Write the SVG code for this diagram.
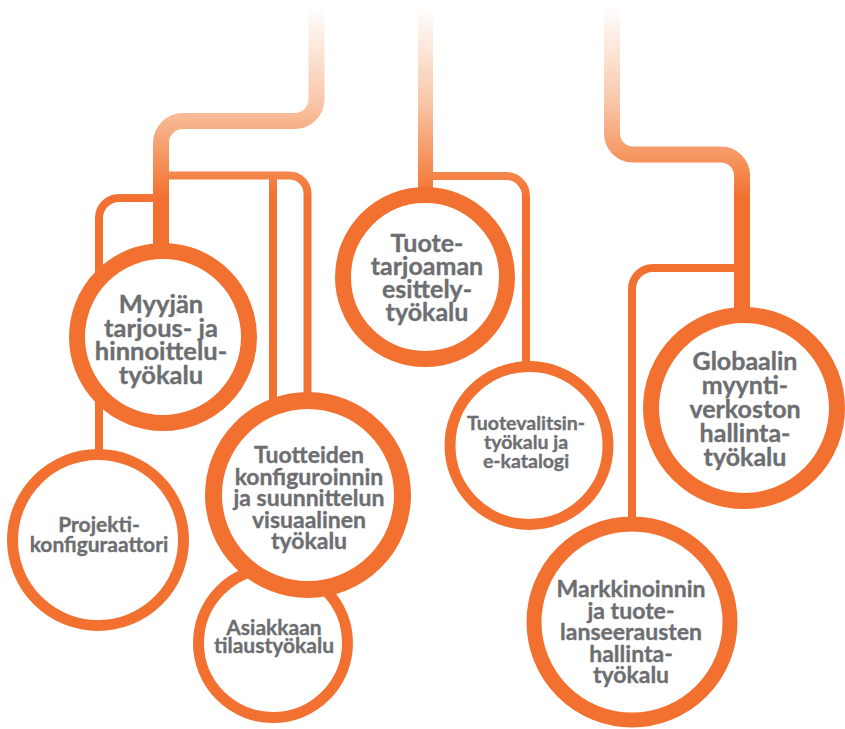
<svg xmlns="http://www.w3.org/2000/svg" width="845" height="729" viewBox="0 0 845 729">
<defs>
<linearGradient id="fade" gradientUnits="userSpaceOnUse" x1="0" y1="7" x2="0" y2="198">
<stop offset="0" stop-color="#ffffff"/>
<stop offset="0.5" stop-color="#f8c6a8"/>
<stop offset="0.82" stop-color="#f58f58"/>
<stop offset="1" stop-color="#f37130"/>
</linearGradient>
<style>
.thick{fill:none;stroke:url(#fade);stroke-width:16}
.thin{fill:none;stroke:url(#fade);stroke-width:8}
.ring{fill:#ffffff;stroke:#f37130}
.lbl{font-family:Lato,"Open Sans","Liberation Sans",sans-serif;font-weight:bold;fill:#6d6e71;stroke:#6d6e71;stroke-width:0.35;text-anchor:middle}
</style>
</defs>
<rect width="845" height="729" fill="#ffffff"/>
<g id="connectors">
<path class="thick" d="M316.5,7 V99 A22,22 0 0 1 294.5,121 H183 A22,22 0 0 0 161,143 V250"/>
<path class="thin" d="M161,198 H119 A20,20 0 0 0 99,218 V455"/>
<path class="thin" d="M161,175.5 H289.5 A18,18 0 0 1 307.5,193.5 V400"/>
<path class="thin" d="M273,175.5 V400"/>
<path class="thick" style="stroke-width:15" d="M425.5,7 V195"/>
<path class="thin" d="M425.5,176 H506 A20,20 0 0 1 526,196 V366"/>
<path class="thick" d="M612,7 V133 A21,21 0 0 0 633,154.5 H721 A21,21 0 0 1 742,175.5 V312"/>
<path class="thin" d="M742,268 H653 A21,21 0 0 0 632,289 V522"/>
</g>
<g id="myyjan">
<circle class="ring" cx="163" cy="337" r="86" stroke-width="16"/>
<text class="lbl" font-size="25.5"><tspan x="161" y="313">Myyjän</tspan><tspan x="161" y="336.5">tarjous- ja</tspan><tspan x="161" y="360">hinnoittelu-</tspan><tspan x="161" y="383.5">työkalu</tspan></text>
</g>
<g id="projekti">
<circle class="ring" cx="98" cy="540" r="85.5" stroke-width="11"/>
<text class="lbl" font-size="21"><tspan x="99" y="532">Projekti-</tspan><tspan x="99" y="552">konfiguraattori</tspan></text>
</g>
<g id="asiakkaan">
<circle class="ring" cx="273" cy="643" r="74.5" stroke-width="11"/>
<text class="lbl" font-size="21"><tspan x="274" y="635">Asiakkaan</tspan><tspan x="274" y="653">tilaustyökalu</tspan></text>
</g>
<g id="tuotteiden">
<circle class="ring" cx="308" cy="495" r="94.5" stroke-width="17"/>
<text class="lbl" font-size="23"><tspan x="309" y="463">Tuotteiden</tspan><tspan x="309" y="484.5">konfiguroinnin</tspan><tspan x="309" y="506">ja suunnittelun</tspan><tspan x="309" y="527.5">visuaalinen</tspan><tspan x="309" y="549">työkalu</tspan></text>
</g>
<g id="tuotetarjoaman">
<circle class="ring" cx="425" cy="277" r="82" stroke-width="16"/>
<text class="lbl" font-size="25"><tspan x="427" y="252">Tuote-</tspan><tspan x="427" y="275">tarjoaman</tspan><tspan x="427" y="298">esittely-</tspan><tspan x="427" y="321">työkalu</tspan></text>
</g>
<g id="tuotevalitsin">
<circle class="ring" cx="529" cy="445.5" r="79" stroke-width="11"/>
<text class="lbl" font-size="19.5"><tspan x="526" y="430">Tuotevalitsin-</tspan><tspan x="526" y="449">työkalu ja</tspan><tspan x="526" y="468">e-katalogi</tspan></text>
</g>
<g id="globaalin">
<circle class="ring" cx="744" cy="408" r="93" stroke-width="16"/>
<text class="lbl" font-size="25"><tspan x="745" y="370">Globaalin</tspan><tspan x="745" y="394">myynti-</tspan><tspan x="745" y="418">verkoston</tspan><tspan x="745" y="442">hallinta-</tspan><tspan x="745" y="466">työkalu</tspan></text>
</g>
<g id="markkinoinnin">
<circle class="ring" cx="632" cy="622" r="98" stroke-width="15"/>
<text class="lbl" font-size="23"><tspan x="631" y="597">Markkinoinnin</tspan><tspan x="631" y="618.6">ja tuote-</tspan><tspan x="631" y="640.2">lanseerausten</tspan><tspan x="631" y="661.8">hallinta-</tspan><tspan x="631" y="683.4">työkalu</tspan></text>
</g>
</svg>
